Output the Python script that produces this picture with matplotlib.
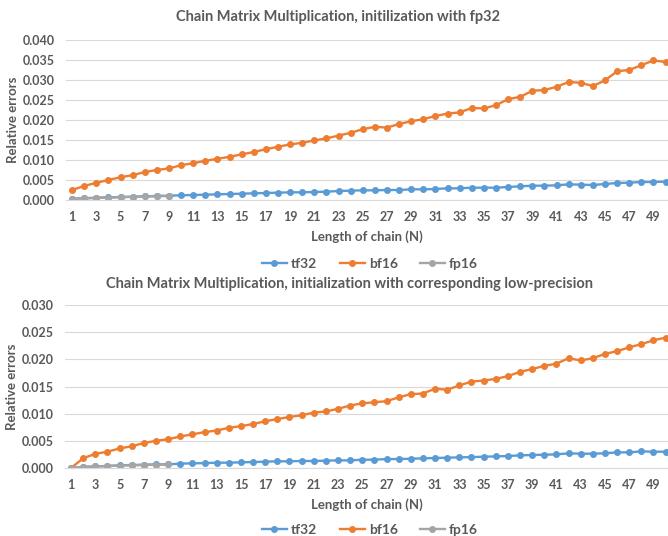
import numpy as np
import matplotlib
matplotlib.use('Agg')
import matplotlib.pyplot as plt

plt.rcParams['font.family'] = ['Lato', 'DejaVu Sans']
plt.rcParams['font.weight'] = 'bold'

N = np.arange(1, 51)
N_fp16 = np.arange(1, 10)

# top chart: initialization with fp32
tf32_a = [0.00033, 0.00042, 0.00058, 0.00067, 0.00075, 0.00083, 0.00092, 0.0010, 0.00108, 0.00117,
          0.00125, 0.00133, 0.00142, 0.0015, 0.00158, 0.00167, 0.00175, 0.00183, 0.00192, 0.00192,
          0.0020, 0.00208, 0.00225, 0.00233, 0.00242, 0.00242, 0.0025, 0.0025, 0.00267, 0.00267,
          0.00275, 0.00292, 0.00292, 0.00308, 0.00308, 0.00308, 0.00325, 0.00342, 0.00358, 0.00358,
          0.00367, 0.00392, 0.00383, 0.00375, 0.0040, 0.00425, 0.00433, 0.0045, 0.0045, 0.00460]
bf16_a = [0.0025, 0.0035, 0.0043, 0.0050, 0.0057, 0.0062, 0.0070, 0.0075, 0.0079, 0.0087,
          0.0092, 0.0098, 0.0103, 0.0108, 0.0114, 0.0120, 0.0127, 0.0133, 0.0139, 0.0143,
          0.0149, 0.0154, 0.0161, 0.0168, 0.0177, 0.0183, 0.0181, 0.0190, 0.0197, 0.0202,
          0.0210, 0.0216, 0.0219, 0.0230, 0.0229, 0.0237, 0.0252, 0.0258, 0.0273, 0.0275,
          0.0283, 0.0295, 0.0293, 0.0285, 0.0299, 0.0322, 0.0325, 0.0337, 0.0349, 0.0345]
fp16_a = [0.0003, 0.0004, 0.00052, 0.0006, 0.0007, 0.00078, 0.00088, 0.00095, 0.001]

# bottom chart: initialization with corresponding low-precision
tf32_b = [0.0, 0.0002, 0.0003, 0.00037, 0.0005, 0.00055, 0.0006, 0.00067, 0.00067, 0.0008,
          0.00086, 0.0009, 0.00098, 0.00098, 0.00104, 0.0011, 0.00116, 0.00123, 0.00123, 0.00129,
          0.00129, 0.00135, 0.0014, 0.0014, 0.00153, 0.00153, 0.00165, 0.00165, 0.0017, 0.00178,
          0.00184, 0.0019, 0.00196, 0.0020, 0.00208, 0.00214, 0.0022, 0.00233, 0.00239, 0.00245,
          0.0025, 0.0027, 0.00263, 0.00263, 0.0027, 0.00288, 0.00288, 0.00306, 0.0030, 0.0030]
bf16_b = [0.0, 0.0018, 0.0026, 0.0030, 0.0036, 0.0040, 0.0046, 0.0050, 0.0053, 0.0058,
          0.0062, 0.0066, 0.0069, 0.0074, 0.0077, 0.0081, 0.0086, 0.0090, 0.0094, 0.0097,
          0.0102, 0.0104, 0.0109, 0.0115, 0.0119, 0.0121, 0.0123, 0.0130, 0.0136, 0.0137,
          0.0146, 0.0144, 0.0152, 0.0159, 0.0161, 0.0164, 0.0169, 0.0177, 0.0182, 0.0188,
          0.0192, 0.0202, 0.0198, 0.0202, 0.0210, 0.0215, 0.0222, 0.0228, 0.0235, 0.0240]
fp16_b = [0.0, 0.0002, 0.00028, 0.00035, 0.00045, 0.0005, 0.00055, 0.0006, 0.00065]

blue = '#5B9BD5'
orange = '#ED7D31'
gray = '#A5A5A5'
text_col = '#595959'
grid_col = '#D9D9D9'

W, H = 668, 536
fig = plt.figure(figsize=(W / 100, H / 100), dpi=100)

def setup(ax, ymax, title, title_x, title_y, legend_y):
    ax.set_xlim(0.5, 50.2)
    ax.set_ylim(0, ymax)
    yt = np.arange(0, ymax + 1e-9, 0.005)
    ax.set_yticks(yt)
    ax.set_yticklabels([f'{v:.3f}' for v in yt], fontweight='bold')
    ax.set_xticks(np.arange(1, 51, 2))
    ax.set_xticklabels([str(n) for n in range(1, 51, 2)], fontweight='bold')
    ax.grid(axis='y', color=grid_col, lw=0.8)
    ax.set_axisbelow(True)
    for s in ['top', 'right', 'left']:
        ax.spines[s].set_visible(False)
    ax.spines['bottom'].set_color(grid_col)
    ax.tick_params(axis='both', length=0, colors=text_col, labelsize=9)
    ax.tick_params(axis='y', pad=8)
    ax.tick_params(axis='x', pad=8)
    ax.set_xlabel('Length of chain (N)', color=text_col, fontsize=9.5,
                  fontweight='bold', labelpad=5)
    ax.set_ylabel('Relative errors', color=text_col, fontsize=9.5,
                  fontweight='bold', labelpad=3)
    fig.text(title_x / W, 1 - title_y / H, title, ha='center', va='center',
             color=text_col, fontsize=10.5, fontweight='bold')
    ax.legend(loc='center', bbox_to_anchor=(370 / W, 1 - legend_y / H),
              bbox_transform=fig.transFigure, ncol=3, frameon=False,
              handlelength=1.8, columnspacing=1.6, handletextpad=0.3,
              labelcolor=text_col, prop={'size': 10, 'weight': 'bold'})

kw = dict(lw=1.7, marker='o', markersize=4)

ax1 = fig.add_axes([66 / W, 1 - 200 / H, 602 / W, 160 / H])
ax1.plot(N, tf32_a, color=blue, label='tf32', **kw)
ax1.plot(N, bf16_a, color=orange, label='bf16', **kw)
ax1.plot(N_fp16, fp16_a, color=gray, label='fp16', **kw)
setup(ax1, 0.040, 'Chain Matrix Multiplication, initilization with fp32', 338, 17, 264)

ax2 = fig.add_axes([65 / W, 1 - 468 / H, 603 / W, 163 / H])
ax2.plot(N, tf32_b, color=blue, label='tf32', **kw)
ax2.plot(N, bf16_b, color=orange, label='bf16', **kw)
ax2.plot(N_fp16, fp16_b, color=gray, label='fp16', **kw)
setup(ax2, 0.030, 'Chain Matrix Multiplication, initialization with corresponding low-precision',
      350, 284, 530)

fig.savefig('out.png', dpi=100)
